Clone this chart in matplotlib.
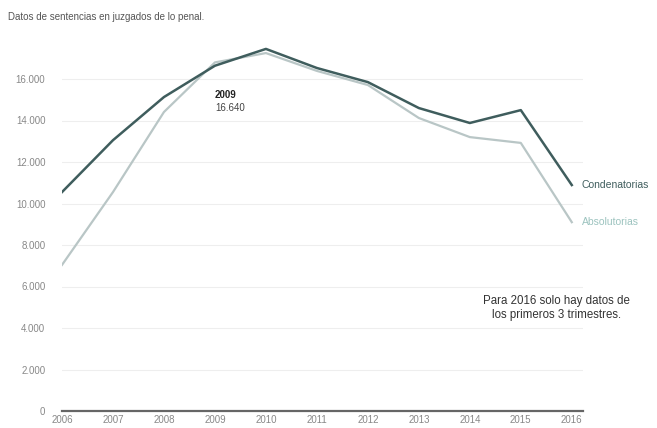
import matplotlib.pyplot as plt
from matplotlib.ticker import FuncFormatter

plt.rcParams['font.family'] = ['Liberation Sans', 'DejaVu Sans']

# ------------------ Data ------------------
years = [2006, 2007, 2008, 2009, 2010, 2011, 2012, 2013, 2014, 2015, 2016]
condenatorias = [10550, 13050, 15130, 16640, 17450, 16530, 15850, 14600, 13880, 14500, 10890]
absolutorias = [7040, 10550, 14410, 16800, 17250, 16390, 15710, 14120, 13200, 12920, 9100]
yticks = [0, 2000, 4000, 6000, 8000, 10000, 12000, 14000, 16000]

dark = '#3f5d5d'
light = '#b9c6c6'
light_label = '#9cc3bf'

fig = plt.figure(figsize=(6.57, 4.28), dpi=100)
ax = fig.add_axes([62 / 657, 17 / 428, 521 / 657, 373.5 / 428])

ax.plot(years, absolutorias, color=light, lw=1.6, zorder=3)
ax.plot(years, condenatorias, color=dark, lw=1.8, zorder=4)

ax.set_xlim(2006, 2016.22)
ax.set_ylim(0, 18000)
ax.set_xticks(years)
ax.set_yticks(yticks)
ax.yaxis.set_major_formatter(FuncFormatter(lambda v, p: f"{int(v):,}".replace(",", ".")))
ax.tick_params(axis='both', length=0, labelsize=7, colors='#888888')
ax.tick_params(axis='y', pad=12)
ax.tick_params(axis='x', pad=3)
ax.grid(axis='y', color='#eeeeee', lw=0.8)
ax.set_axisbelow(True)
for s in ['top', 'right', 'left']:
    ax.spines[s].set_visible(False)
ax.spines['bottom'].set_color('#666666')
ax.spines['bottom'].set_linewidth(1.6)

# series labels
ax.annotate("Condenatorias", (2016, condenatorias[-1]), xytext=(7, 0), textcoords='offset points',
            va='center', ha='left', fontsize=7.5, color=dark, annotation_clip=False)
ax.annotate("Absolutorias", (2016, absolutorias[-1]), xytext=(7, 0), textcoords='offset points',
            va='center', ha='left', fontsize=7.5, color=light_label, annotation_clip=False)

# hover annotation
ax.text(2009.0, 15000, "2009", fontsize=7, fontweight='bold', color='#222222', va='bottom')
ax.text(2009.0, 14350, "16.640", fontsize=7, color='#444444', va='bottom')

ax.text(2015.7, 4950, "Para 2016 solo hay datos de\nlos primeros 3 trimestres.", fontsize=8.3,
        color='#333333', ha='center', va='center', linespacing=1.2)

fig.text(8 / 657, 1 - 17 / 428, "Datos de sentencias en juzgados de lo penal.", fontsize=7,
         color='#555555', va='center', ha='left')

fig.savefig("out.png", dpi=100)
